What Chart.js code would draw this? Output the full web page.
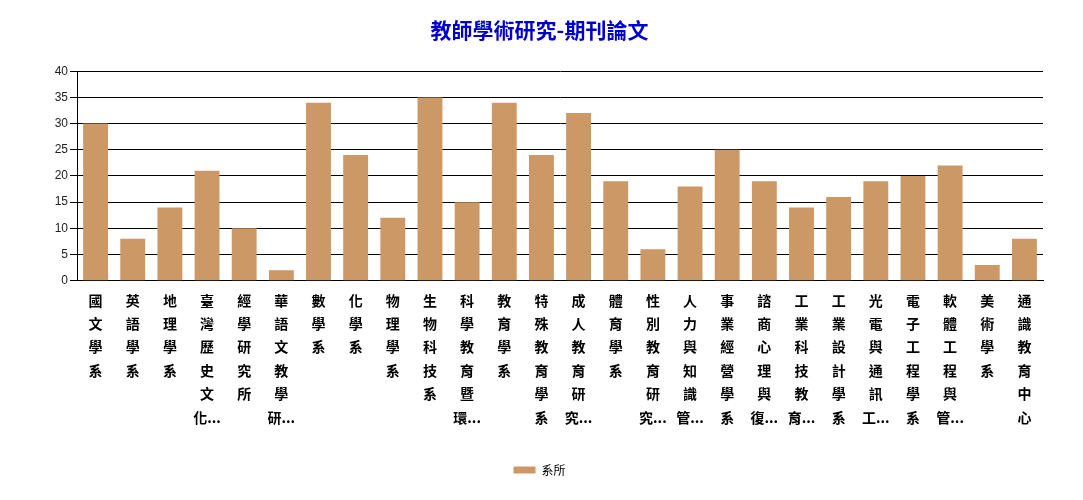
<!DOCTYPE html>
<html>
<head>
<meta charset="utf-8">
<script src="https://cdn.jsdelivr.net/npm/chart.js@4"></script>
<style>
  html, body { margin: 0; padding: 0; background: #fff; }
  #wrap { width: 1083px; height: 500px; }
</style>
</head>
<body>
<div id="wrap"><canvas id="chart"></canvas></div>
<script>
const chartTitle = '教師學術研究-期刊論文';
const seriesName = '系所';
const departments = [
  '國文學系', '英語學系', '地理學系', '臺灣歷史文化...', '經學研究所', '華語文教學研...',
  '數學系', '化學系', '物理學系', '生物科技系', '科學教育暨環...', '教育學系',
  '特殊教育學系', '成人教育研究...', '體育學系', '性別教育研究...', '人力與知識管...',
  '事業經營學系', '諮商心理與復...', '工業科技教育...', '工業設計學系', '光電與通訊工...',
  '電子工程學系', '軟體工程與管...', '美術學系', '通識教育中心'
];
const papers = [30, 8, 14, 21, 10, 2, 34, 24, 12, 35, 15, 34, 24, 32, 19, 6, 18, 25, 19, 14, 16, 19, 20, 22, 3, 8];
const yTicks = [0, 5, 10, 15, 20, 25, 30, 35, 40];

// one character per line, the "..." stays with the last character
function stack(name) {
  const lines = Array.from(name.replace('...', ''));
  if (name.endsWith('...')) lines[lines.length - 1] += '...';
  return lines;
}

const cjk = '"Noto Sans CJK TC", "Noto Sans", sans-serif';

new Chart(document.getElementById('chart'), {
  type: 'bar',
  data: {
    labels: departments.map(stack),
    datasets: [{
      label: seriesName,
      data: papers,
      backgroundColor: '#CC9966',
      borderWidth: 0,
      barPercentage: 0.67,
      categoryPercentage: 1
    }]
  },
  options: {
    responsive: true,
    maintainAspectRatio: false,
    animation: false,
    layout: { padding: { left: 36, right: 40, top: 0, bottom: 14 } },
    scales: {
      x: {
        grid: { display: false, drawTicks: false },
        border: { color: '#000', width: 1 },
        ticks: {
          autoSkip: false,
          maxRotation: 0,
          minRotation: 0,
          padding: 8,
          color: '#000',
          font: { family: cjk, size: 14, weight: 'bold', lineHeight: 1.67 }
        }
      },
      y: {
        min: 0,
        max: 40,
        afterBuildTicks: axis => { axis.ticks = yTicks.map(v => ({ value: v })); },
        afterFit: axis => { axis.width = 41; },
        grid: { color: '#000', lineWidth: 1, tickLength: 7 },
        border: { color: '#000', width: 1 },
        ticks: {
          padding: 2,
          color: '#222',
          font: { family: '"Liberation Sans", Arial, sans-serif', size: 12 }
        }
      }
    },
    plugins: {
      title: {
        display: true,
        text: chartTitle,
        color: '#0000CC',
        font: { family: cjk, size: 21, weight: 'bold' },
        padding: { top: 17, bottom: 29 }
      },
      legend: {
        position: 'bottom',
        labels: {
          boxWidth: 22,
          boxHeight: 7,
          color: '#000',
          padding: 27,
          font: { family: cjk, size: 12 }
        }
      },
      tooltip: { enabled: false }
    }
  }
});
</script>
</body>
</html>
